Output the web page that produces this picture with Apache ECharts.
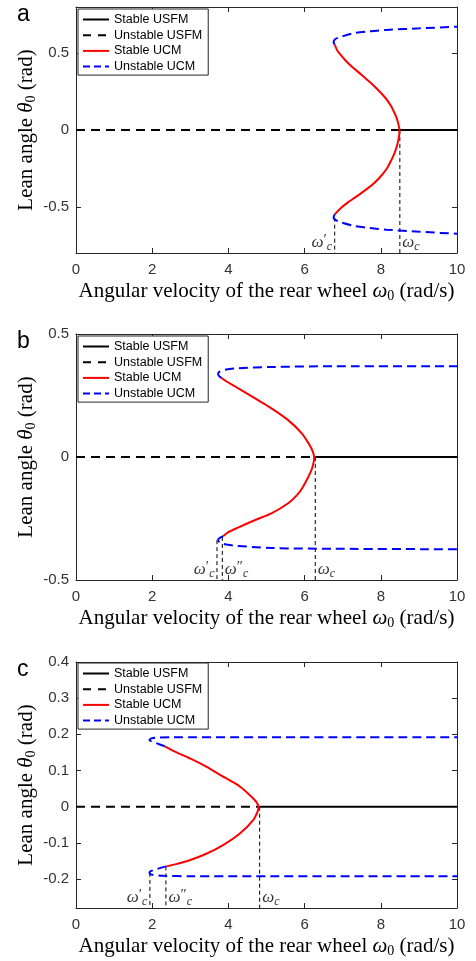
<!DOCTYPE html>
<html>
<head>
<meta charset="utf-8">
<script src="https://cdn.jsdelivr.net/npm/echarts@6/dist/echarts.min.js"></script>
<style>
  html, body { margin: 0; padding: 0; background: #fff; }
  #chart { width: 476px; height: 961px; }
</style>
</head>
<body>
<div id="chart"></div>
<script>
// ---- shared ----
const legendNames = ['Stable USFM', 'Unstable USFM', 'Stable UCM', 'Unstable UCM'];
const xRange = [0, 10];
const xTicks = [0, 2, 4, 6, 8, 10];

// ---- panel a ----
const aYRange = [-0.8, 0.8];
const aYTicks = [-0.5, 0, 0.5];
const aRedW = [6.79, 6.85, 6.92, 7.08, 7.25, 7.49, 7.71, 7.89, 8.06, 8.18, 8.28, 8.36, 8.42, 8.46, 8.49,
               8.48, 8.43, 8.36, 8.28, 8.16, 7.96, 7.76, 7.55, 7.32, 7.12, 6.94, 6.79];
const aRedT = [0.556, 0.52, 0.496, 0.45, 0.41, 0.36, 0.312, 0.27, 0.226, 0.19, 0.151, 0.11, 0.076, 0.04, 0,
               -0.04, -0.097, -0.15, -0.194, -0.25, -0.312, -0.36, -0.399, -0.44, -0.474, -0.51, -0.549];
const aBlueTopW = [6.79, 6.76, 6.80, 6.92, 7.27, 7.70, 8.15, 9.02, 10];
const aBlueTopT = [0.556, 0.571, 0.590, 0.603, 0.629, 0.642, 0.651, 0.661, 0.672];
const aBlueBotW = [6.79, 6.76, 6.80, 6.92, 7.27, 7.70, 8.15, 9.02, 10];
const aBlueBotT = [-0.549, -0.57, -0.583, -0.598, -0.622, -0.637, -0.648, -0.662, -0.675];
const aCritW = [6.79, 8.5];
const aCritFoot = [-0.57, 0];
const aCritText = ['{w|ω}{p|′}{s|c}', '{w|ω}{s|c}'];

// ---- panel b ----
const bYRange = [-0.5, 0.5];
const bYTicks = [-0.5, 0, 0.5];
const bRedW = [3.82, 3.95, 4.25, 4.69, 5.13, 5.56, 5.92, 6.13, 6.21, 6.25,
               6.24, 6.18, 5.96, 5.80, 5.56, 5.13, 4.69, 4.25, 3.98, 3.86];
const bRedT = [0.321, 0.307, 0.28, 0.239, 0.198, 0.151, 0.097, 0.049, 0.024, 0,
               -0.02, -0.053, -0.121, -0.155, -0.189, -0.229, -0.257, -0.287, -0.307, -0.322];
const bBlueTopW = [3.82, 3.75, 3.73, 3.76, 3.90, 4.25, 5.13, 6.79, 10];
const bBlueTopT = [0.321, 0.330, 0.338, 0.346, 0.354, 0.361, 0.366, 0.369, 0.369];
const bBlueBotW = [3.86, 3.76, 3.73, 3.80, 4.08, 5.13, 6.79, 10];
const bBlueBotT = [-0.322, -0.330, -0.338, -0.350, -0.359, -0.370, -0.373, -0.375];
const bCritW = [3.70, 3.84, 6.28];
const bCritFoot = [-0.338, -0.325, 0];
const bCritText = ['{w|ω}{p|′}{s|c}', '{w|ω}{p|″}{s|c}', '{w|ω}{s|c}'];

// ---- panel c ----
const cYRange = [-0.28, 0.4];
const cYTicks = [-0.2, -0.1, 0, 0.1, 0.2, 0.3, 0.4];
const cRedW = [2.33, 2.60, 2.98, 3.42, 3.86, 4.30, 4.60, 4.74, 4.79,
               4.77, 4.65, 4.30, 3.86, 3.42, 2.98, 2.65, 2.37];
const cRedT = [0.167, 0.152, 0.134, 0.111, 0.083, 0.056, 0.028, 0.012, 0,
               -0.012, -0.037, -0.074, -0.106, -0.13, -0.148, -0.158, -0.165];
const cBlueTopW = [2.33, 2.10, 1.95, 1.93, 1.98, 2.10, 2.50, 10];
const cBlueTopT = [0.167, 0.176, 0.182, 0.185, 0.189, 0.191, 0.192, 0.192];
const cBlueBotW = [2.37, 2.10, 1.95, 1.93, 2.00, 2.30, 3.00, 10];
const cBlueBotT = [-0.165, -0.173, -0.179, -0.183, -0.188, -0.191, -0.192, -0.192];
const cCritW = [1.94, 2.36, 4.82];
const cCritFoot = [-0.183, -0.165, 0];
const cCritText = ['{w|ω}{p|′}{s|c}', '{w|ω}{p|″}{s|c}', '{w|ω}{s|c}'];

const serif = '"Liberation Serif", "Times New Roman", serif';
const sans = '"Liberation Sans", Arial, sans-serif';
const ink = '#262626';

function zip(w, t) {
  return w.map((v, i) => [v, t[i]]);
}

const panels = [
  { label: 'a', yRange: aYRange, yTicks: aYTicks, red: zip(aRedW, aRedT),
    blueTop: zip(aBlueTopW, aBlueTopT), blueBot: zip(aBlueBotW, aBlueBotT),
    critW: aCritW, critFoot: aCritFoot, critText: aCritText, top: 7, legendTop: 9 },
  { label: 'b', yRange: bYRange, yTicks: bYTicks, red: zip(bRedW, bRedT),
    blueTop: zip(bBlueTopW, bBlueTopT), blueBot: zip(bBlueBotW, bBlueBotT),
    critW: bCritW, critFoot: bCritFoot, critText: bCritText, top: 334, legendTop: 336 },
  { label: 'c', yRange: cYRange, yTicks: cYTicks, red: zip(cRedW, cRedT),
    blueTop: zip(cBlueTopW, cBlueTopT), blueBot: zip(cBlueBotW, cBlueBotT),
    critW: cCritW, critFoot: cCritFoot, critText: cCritText, top: 662, legendTop: 663 }
];

// legend entries: line only, dashes copied from the series
const legendData = [
  { name: 'Stable USFM', lineStyle: { type: 'solid' } },
  { name: 'Unstable USFM', lineStyle: { type: [8, 7] } },
  { name: 'Stable UCM', lineStyle: { type: 'solid' } },
  { name: 'Unstable UCM', lineStyle: { type: [7, 4] } }
];

const nameRich = {
  i: { fontFamily: serif, fontStyle: 'italic', fontSize: 21, lineHeight: 24, color: '#000' },
  sub: { fontFamily: serif, fontSize: 14, lineHeight: 11, verticalAlign: 'bottom', color: '#000' }
};

const critRich = {
  w: { fontFamily: serif, fontStyle: 'italic', fontSize: 17, lineHeight: 20, color: '#000' },
  p: { fontFamily: serif, fontSize: 15, lineHeight: 13, verticalAlign: 'top', color: '#000' },
  s: { fontFamily: serif, fontStyle: 'italic', fontSize: 12, lineHeight: 9, verticalAlign: 'bottom', color: '#000' }
};

const grid = [], xAxis = [], yAxis = [], series = [], legend = [], title = [];

panels.forEach((p, i) => {
  grid.push({ left: 76, top: p.top, width: 381, height: 246 });

  const line = { show: true, onZero: false, lineStyle: { color: ink, width: 1 } };
  const tick = { show: true, inside: true, length: 5, lineStyle: { color: ink, width: 1 } };

  xAxis.push({
    gridIndex: i, type: 'value', min: xRange[0], max: xRange[1], interval: 2,
    axisLine: line, axisTick: tick, splitLine: { show: false },
    axisLabel: { fontFamily: sans, fontSize: 15, color: '#333', margin: 9 },
    name: 'Angular velocity of the rear wheel {i|ω}{sub|0} (rad/s)',
    nameLocation: 'middle', nameGap: 26, nameMoveOverlap: false,
    nameTextStyle: { fontFamily: serif, fontSize: 21, lineHeight: 24, color: '#000', rich: nameRich }
  });
  xAxis.push({
    gridIndex: i, type: 'value', position: 'top', min: xRange[0], max: xRange[1], interval: 2,
    axisLine: line, axisTick: tick, axisLabel: { show: false }, splitLine: { show: false }
  });
  yAxis.push({
    gridIndex: i, type: 'value', min: p.yRange[0], max: p.yRange[1],
    axisLine: line, splitLine: { show: false },
    axisTick: Object.assign({ customValues: p.yTicks }, tick),
    axisLabel: { customValues: p.yTicks, fontFamily: sans, fontSize: 15, color: '#333', margin: 7 },
    name: 'Lean angle {i|θ}{sub|0} (rad)',
    nameLocation: 'middle', nameGap: 38, nameMoveOverlap: false,
    nameTextStyle: { fontFamily: serif, fontSize: 21, lineHeight: 24, color: '#000', rich: nameRich }
  });
  yAxis.push({
    gridIndex: i, type: 'value', position: 'right', min: p.yRange[0], max: p.yRange[1],
    axisLine: line, splitLine: { show: false },
    axisTick: Object.assign({ customValues: p.yTicks }, tick),
    axisLabel: { show: false }
  });

  const ax = { xAxisIndex: 2 * i, yAxisIndex: 2 * i, silent: true };
  const noSym = { symbol: 'none', showSymbol: false };
  const wc = p.critW[p.critW.length - 1];

  // thin dashed guides down to the axis, with their ω labels
  p.critW.forEach((w, k) => {
    series.push(Object.assign({
      type: 'line', data: [[w, p.critFoot[k]], [w, p.yRange[0]]],
      lineStyle: { color: '#000', width: 1, type: [4, 3] }, z: 1
    }, ax, noSym));
    series.push(Object.assign({
      type: 'scatter', data: [[w, p.yRange[0]]], symbol: 'circle', symbolSize: 1,
      itemStyle: { color: 'rgba(0,0,0,0)' },
      label: {
        show: true, position: k === 0 ? 'left' : 'right', distance: 2, offset: [0, -10],
        formatter: p.critText[k], rich: critRich
      }, z: 1
    }, ax));
  });

  series.push(Object.assign({
    name: 'Unstable USFM', type: 'line', data: [[xRange[0], 0], [wc, 0]],
    lineStyle: { color: '#000', width: 2, type: [9, 6] }, itemStyle: { color: '#000' }, z: 2
  }, ax, noSym));
  series.push(Object.assign({
    name: 'Stable USFM', type: 'line', data: [[wc, 0], [xRange[1], 0]],
    lineStyle: { color: '#000', width: 2, type: 'solid' }, itemStyle: { color: '#000' }, z: 2
  }, ax, noSym));
  series.push(Object.assign({
    name: 'Stable UCM', type: 'line', data: p.red, smooth: 0.3,
    lineStyle: { color: '#ff0000', width: 2, type: 'solid' }, itemStyle: { color: '#ff0000' }, z: 3
  }, ax, noSym));
  [p.blueTop, p.blueBot].forEach(d => {
    series.push(Object.assign({
      name: 'Unstable UCM', type: 'line', data: d, smooth: 0.3,
      lineStyle: { color: '#0000ff', width: 2, type: [9, 5] }, itemStyle: { color: '#0000ff' }, z: 3
    }, ax, noSym));
  });

  legend.push({
    data: legendData, orient: 'vertical', left: 78, top: p.legendTop,
    itemWidth: 26, itemHeight: 14, itemGap: 2.7, padding: [4, 6, 2, 4],
    borderColor: ink, borderWidth: 1, backgroundColor: '#fff', selectedMode: false,
    itemStyle: { opacity: 0 },
    textStyle: { fontFamily: sans, fontSize: 12.5, color: '#000' }
  });

  title.push({
    text: p.label, left: 12, top: p.top - 9,
    textStyle: { fontFamily: sans, fontSize: 23, fontWeight: 'normal', color: '#000' }
  });
});

const chart = echarts.init(document.getElementById('chart'), null, { renderer: 'canvas' });
chart.setOption({
  animation: false,
  backgroundColor: '#fff',
  title: title,
  legend: legend,
  grid: grid,
  xAxis: xAxis,
  yAxis: yAxis,
  series: series
});
</script>
</body>
</html>
